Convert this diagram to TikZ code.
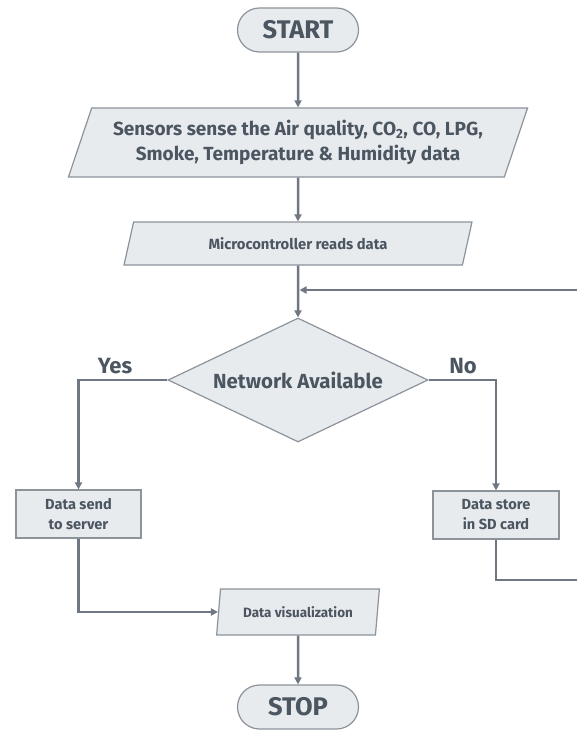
\documentclass[tikz,border=0pt]{standalone}
\usepackage{fontspec}
\setmainfont{Fira Sans}
\usetikzlibrary{shapes.geometric, arrows.meta, positioning, calc}
\definecolor{fcline}{RGB}{111,120,130}
\definecolor{fcedge}{RGB}{140,147,155}
\definecolor{fcfill}{RGB}{232,235,238}
\definecolor{fctext}{RGB}{75,86,97}

\tikzset{
  base/.style={draw=fcedge, line width=1.2pt, fill=fcfill, text=fctext, inner sep=0pt, align=center},
  terminal/.style={base, rectangle, rounded corners=22pt, minimum width=121pt, minimum height=44pt,
    font=\bfseries\fontsize{25.5}{28}\selectfont},
  iobox/.style={base, trapezium, trapezium stretches=true},
  procbox/.style={base, rectangle, font=\bfseries\fontsize{14.6}{20}\selectfont},
  decision/.style={base, diamond, aspect=2.1},
  flow/.style={draw=fcline, line width=2.5pt, -{Triangle[length=7pt,width=7pt]}},
  lbl/.style={text=fctext, font=\bfseries\fontsize{22}{24}\selectfont}
}

\begin{document}
\begin{tikzpicture}[x=1pt, y=-1pt]
\useasboundingbox (0,0) rectangle (576,733);
% Steps
\node[terminal] (start) at (298,30) {START};
\node[iobox, trapezium left angle=65, trapezium right angle=115,
  minimum width=460pt, minimum height=69pt, font=\bfseries\fontsize{19}{25}\selectfont]
  (sense) at (298,142.5) {Sensors sense the Air quality, CO\textsubscript{2}, CO, LPG,\\Smoke, Temperature \& Humidity data};
\node[iobox, trapezium left angle=67, trapezium right angle=113,
  minimum width=348pt, minimum height=43pt, font=\bfseries\fontsize{14.8}{16}\selectfont]
  (micro) at (298,243.5) {Microcontroller reads data};
\node[decision, minimum width=260pt, minimum height=124pt, font=\bfseries\fontsize{20.4}{24}\selectfont]
  (net) at (298,380) {Network Available};
\node[procbox, minimum width=125pt, minimum height=48pt] (send) at (78.5,514) {Data send\\to server};
\node[procbox, minimum width=126pt, minimum height=48pt] (store) at (496,515) {Data store\\in SD card};
\node[iobox, trapezium left angle=76, trapezium right angle=104,
  minimum width=163pt, minimum height=46pt, font=\bfseries\fontsize{13.5}{16}\selectfont]
  (viz) at (298,612) {Data visualization};
\node[terminal] (stop) at (298,707) {STOP};
% Branch labels
\node[lbl] (yes) at (115,366) {Yes};
\node[lbl] (no) at (463,366) {No};
% Loop back points
\coordinate (outer) at (578,580);
\coordinate (merge) at (299.5,290);
% Connectors
\draw[flow] (start) -- (sense);
\draw[flow] (sense) -- (micro);
\draw[flow] (micro) -- (net);
\draw[flow] (net.west) -| (send.north);
\draw[flow] (net.east) -| (store.north);
\draw[flow] (send.south) |- (viz.west);
\draw[flow] (store.south) |- (outer) |- (merge);
\draw[flow] (viz) -- (stop);
\end{tikzpicture}
\end{document}
